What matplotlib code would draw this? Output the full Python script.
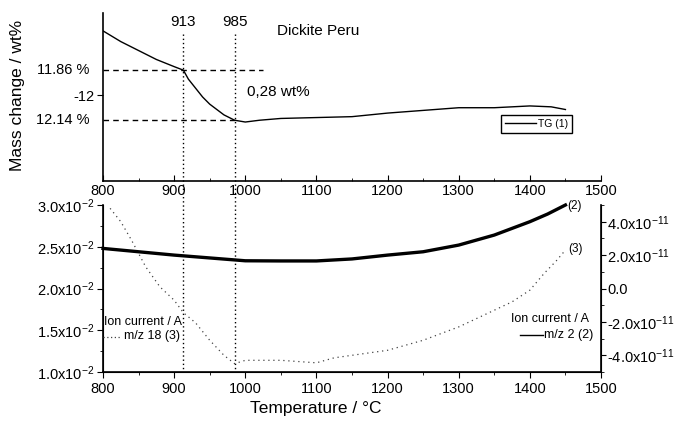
import matplotlib
matplotlib.use("Agg")
import matplotlib.pyplot as plt
from matplotlib.ticker import FixedLocator, MultipleLocator, FixedFormatter

plt.rcParams['font.family'] = ['Liberation Sans', 'DejaVu Sans']
plt.rcParams['mathtext.fontset'] = 'custom'
plt.rcParams['mathtext.rm'] = 'Liberation Sans'
plt.rcParams['mathtext.default'] = 'rm'

# TG curve (top panel)
tg_temp = [800, 825, 850, 875, 900, 913, 920, 930, 940, 950, 960, 970, 985,
           1000, 1020, 1050, 1100, 1150, 1200, 1250, 1300, 1350, 1400, 1430, 1450]
tg_mass = [-11.64, -11.70, -11.75, -11.80, -11.84, -11.86, -11.91, -11.96, -12.01,
           -12.05, -12.08, -12.11, -12.14, -12.15, -12.14, -12.13, -12.125, -12.12,
           -12.10, -12.085, -12.07, -12.07, -12.06, -12.065, -12.08]

# m/z 2 ion current (right axis)
ms2_temp = [800, 850, 900, 950, 1000, 1050, 1100, 1150, 1200, 1250, 1300, 1350,
            1400, 1425, 1450]
ms2_curr = [2.4e-11, 2.2e-11, 2.0e-11, 1.83e-11, 1.66e-11, 1.65e-11, 1.65e-11,
            1.77e-11, 2.0e-11, 2.2e-11, 2.6e-11, 3.2e-11, 4.0e-11, 4.46e-11, 5.0e-11]

# m/z 18 ion current (left axis)
ms18_temp = [810, 825, 840, 860, 880, 900, 913, 930, 950, 970, 985, 1000, 1050,
             1100, 1125, 1150, 1200, 1250, 1300, 1350, 1375, 1400, 1420, 1437, 1450]
ms18_curr = [2.96e-2, 2.80e-2, 2.58e-2, 2.26e-2, 2.02e-2, 1.86e-2, 1.71e-2, 1.59e-2,
             1.38e-2, 1.20e-2, 1.10e-2, 1.14e-2, 1.14e-2, 1.11e-2, 1.17e-2, 1.20e-2,
             1.26e-2, 1.38e-2, 1.54e-2, 1.74e-2, 1.84e-2, 1.98e-2, 2.18e-2, 2.33e-2,
             2.46e-2]

marks_temp = [913, 986]
marks_label = ['913', '985']
step_mass = [-11.86, -12.14]

x_ticks = [800, 900, 1000, 1100, 1200, 1300, 1400, 1500]
left_ticks = [1.0e-2, 1.5e-2, 2.0e-2, 2.5e-2, 3.0e-2]
left_labels = ['1.0x10$^{-2}$', '1.5x10$^{-2}$', '2.0x10$^{-2}$', '2.5x10$^{-2}$', '3.0x10$^{-2}$']
right_ticks = [-4e-11, -2e-11, 0, 2e-11, 4e-11]
right_labels = ['-4.0x10$^{-11}$', '-2.0x10$^{-11}$', '0.0', '2.0x10$^{-11}$', '4.0x10$^{-11}$']

W, H = 676, 421
fig = plt.figure(figsize=(W / 100, H / 100), dpi=100)


def fx(x):
    return x / W


def fy(y):
    return 1 - y / H


ax1 = fig.add_axes([fx(103), fy(181), fx(601) - fx(103), fy(13) - fy(181)])
ax2 = fig.add_axes([fx(103), fy(372), fx(601) - fx(103), fy(205) - fy(372)])
ax3 = ax2.twinx()
ax2.patch.set_visible(False)
ax3.patch.set_visible(False)

# ---- top panel ----
ax1.plot(tg_temp, tg_mass, color='black', lw=1.0, label='TG (1)')
ax1.set_xlim(800, 1500)
ax1.set_ylim(-12.48, -11.54)
for s in ['top', 'right']:
    ax1.spines[s].set_visible(False)
for s in ['left', 'bottom']:
    ax1.spines[s].set_linewidth(1.2)
ax1.xaxis.set_major_locator(FixedLocator(x_ticks))
ax1.xaxis.set_minor_locator(MultipleLocator(50))
ax1.tick_params(axis='x', which='both', direction='in', labelsize=10.5, pad=2)
ax1.tick_params(axis='x', which='major', length=4)
ax1.tick_params(axis='x', which='minor', length=2)
ax1.set_yticks([-12])
ax1.set_yticklabels(['-12'])
ax1.tick_params(axis='y', direction='out', length=4, labelsize=10.5, pad=2)

ax1.plot([800, 1025], [step_mass[0]] * 2, color='black', lw=1, ls=(0, (4, 3)))
ax1.plot([800, 990], [step_mass[1]] * 2, color='black', lw=1, ls=(0, (4, 3)))
ax1.text(799 - 18, step_mass[0], '11.86 %', ha='right', va='center', fontsize=10.5)
ax1.text(799 - 18, step_mass[1], '12.14 %', ha='right', va='center', fontsize=10.5)

# dotted vertical markers spanning both panels
for t, lab in zip(marks_temp, marks_label):
    ax1.plot([t, t], [-11.66, -13.55], color='black', lw=1, ls=(0, (1, 2)),
             clip_on=False, zorder=5)
    ax1.text(t, -11.59, lab, ha='center', va='center', fontsize=11)

ax1.text(1045, -11.64, 'Dickite Peru', ha='left', va='center', fontsize=11)
ax1.text(1003, -11.98, '0,28 wt%', ha='left', va='center', fontsize=11)

leg = ax1.legend(loc='center', bbox_to_anchor=(0.871, 0.339), fontsize=7.5,
                 handlelength=3.0, handletextpad=0.2, borderpad=0.35,
                 fancybox=False, framealpha=1, edgecolor='black')
leg.get_frame().set_linewidth(1.0)

# ---- bottom panel ----
l18, = ax2.plot(ms18_temp, ms18_curr, color='#444444', lw=0.9, ls=(0, (1, 3)))
l2, = ax3.plot(ms2_temp, ms2_curr, color='black', lw=2.4, clip_on=False)
ax2.set_xlim(800, 1500)
ax2.set_ylim(0.01, 0.03)
ax3.set_ylim(-5e-11, 5e-11)
ax2.spines['top'].set_visible(False)
ax3.spines['top'].set_visible(False)
for s in ['left', 'bottom']:
    ax2.spines[s].set_linewidth(1.2)
ax3.spines['right'].set_linewidth(1.2)

ax2.xaxis.set_major_locator(FixedLocator(x_ticks))
ax2.xaxis.set_minor_locator(MultipleLocator(50))
ax2.tick_params(axis='x', which='both', direction='out', labelsize=10.5, pad=3)
ax2.tick_params(axis='x', which='major', length=4)
ax2.tick_params(axis='x', which='minor', length=2)

ax2.yaxis.set_major_locator(FixedLocator(left_ticks))
ax2.yaxis.set_major_formatter(FixedFormatter(left_labels))
ax2.yaxis.set_minor_locator(MultipleLocator(0.25e-2))
ax2.tick_params(axis='y', which='both', direction='out', labelsize=10.5, pad=2)
ax2.tick_params(axis='y', which='major', length=4)
ax2.tick_params(axis='y', which='minor', length=2)

ax3.yaxis.set_major_locator(FixedLocator(right_ticks))
ax3.yaxis.set_major_formatter(FixedFormatter(right_labels))
ax3.yaxis.set_minor_locator(MultipleLocator(1e-11))
ax3.tick_params(axis='y', which='both', direction='out', labelsize=10.5, pad=1)
ax3.tick_params(axis='y', which='major', length=3.5)
ax3.tick_params(axis='y', which='minor', length=2)

fig.text(fx(567), fy(206), '(2)', ha='left', va='center', fontsize=8.5)
fig.text(fx(568), fy(249), '(3)', ha='left', va='center', fontsize=8.5)

# ion current labels
fig.text(fx(104), fy(322), 'Ion current / A', ha='left', va='center', fontsize=9)
fig.add_artist(plt.Line2D([fx(103), fx(120)], [fy(337), fy(337)], color='#444444',
                          lw=0.9, ls=(0, (1, 2))))
fig.text(fx(124), fy(336), 'm/z 18 (3)', ha='left', va='center', fontsize=9)

fig.text(fx(589), fy(319), 'Ion current / A', ha='right', va='center', fontsize=9)
fig.add_artist(plt.Line2D([fx(520), fx(543)], [fy(335), fy(335)], color='black', lw=1))
fig.text(fx(544), fy(335), 'm/z 2 (2)', ha='left', va='center', fontsize=9)

fig.text(fx(18), fy(95), 'Mass change / wt%', rotation=90, ha='center', va='center',
         fontsize=12.5)
fig.text(fx(316), fy(409), 'Temperature / °C', ha='center', va='center', fontsize=12.5)

fig.savefig('out.png', dpi=100)
plt.close(fig)
